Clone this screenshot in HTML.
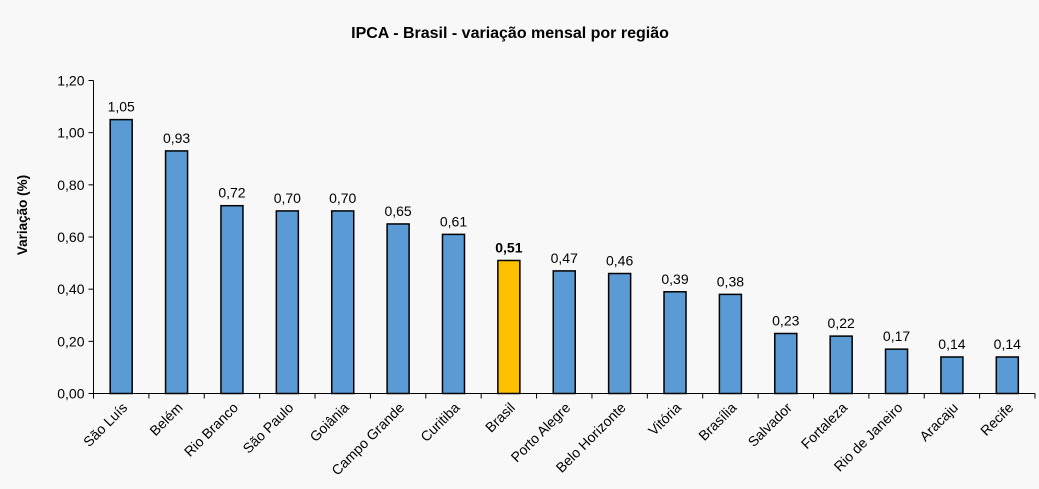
<!DOCTYPE html>
<html><head><meta charset="utf-8"><style>
html,body{margin:0;padding:0;background:#f8f8f8;}
svg{display:block;font-family:"Liberation Sans",Arial,sans-serif;}
</style></head><body>
<svg id="chart" width="1039" height="489">
<rect x="0" y="0" width="1039" height="489" fill="#f8f8f8"/>
<text x="510" y="38" text-anchor="middle" font-size="16" font-weight="bold" fill="#000">IPCA - Brasil - variação mensal por região</text>
<text transform="translate(27,215) rotate(-90)" text-anchor="middle" font-size="13.5" font-weight="bold" fill="#000">Variação (%)</text>
<g id="yaxis"></g>
<g id="bars"></g>
<g id="xaxis"></g>
</svg>
<script>
const categories=["São Luís","Belém","Rio Branco","São Paulo","Goiânia","Campo Grande","Curitiba","Brasil","Porto Alegre","Belo Horizonte","Vitória","Brasília","Salvador","Fortaleza","Rio de Janeiro","Aracaju","Recife"];
const values=[1.05,0.93,0.72,0.70,0.70,0.65,0.61,0.51,0.47,0.46,0.39,0.38,0.23,0.22,0.17,0.14,0.14];
const highlight="Brasil";
const yTicks=[0,0.2,0.4,0.6,0.8,1.0,1.2];
const NS="http://www.w3.org/2000/svg";
const x0=93.5,x1=1035,y0=393.5,yTop=80.5,yMax=1.2;
const cw=(x1-x0)/categories.length;
function yS(v){return y0-(v/yMax)*(y0-yTop);}
function xS(i){return x0+(i+0.5)*cw;}
function mk(t,a,p){const e=document.createElementNS(NS,t);for(const k in a)e.setAttribute(k,a[k]);p.appendChild(e);return e;}
const ya=document.getElementById('yaxis'),bg=document.getElementById('bars'),xa=document.getElementById('xaxis');
let l=mk('line',{x1:x0,y1:yTop,x2:x0,y2:y0,stroke:'#000','stroke-width':1},ya);


yTicks.forEach(v=>{
  const y=yS(v);
  const t=mk('line',{x1:x0-5,y1:y,x2:x0,y2:y,stroke:'#000'},ya);
  
  
  const tx=mk('text',{x:x0-9,y:y+5,'text-anchor':'end','font-size':14,fill:'#000'},ya);
  tx.textContent=v.toFixed(2).replace('.',',');
  
  
});
values.forEach((v,i)=>{
  const cx=xS(i),w=22,y=yS(v);
  const isH=categories[i]===highlight;
  const r=mk('rect',{x:cx-w/2,y:y,width:w,height:y0-y,fill:isH?'#ffc000':'#5b9bd5',stroke:'#000','stroke-width':1.5},bg);
  
  
  const t=mk('text',{x:cx,y:y-8,'text-anchor':'middle','font-size':14,fill:'#000','font-weight':isH?'bold':'normal'},bg);
  t.textContent=v.toFixed(2).replace('.',',');
  
  
});
l=mk('line',{x1:x0,y1:y0,x2:x1,y2:y0,stroke:'#000','stroke-width':1},xa);


for(let i=0;i<=categories.length;i++){
  const x=x0+i*cw;
  const t=mk('line',{x1:x,y1:y0,x2:x,y2:y0+5,stroke:'#000'},xa);
  
  
}
categories.forEach((c,i)=>{
  const cx=xS(i)+7,cy=y0+15;
  const t=mk('text',{x:cx,y:cy,'text-anchor':'end','font-size':14,fill:'#000',transform:`rotate(-45 ${cx} ${cy})`},xa);
  t.textContent=c;
  
  
});
</script>
</body></html>
